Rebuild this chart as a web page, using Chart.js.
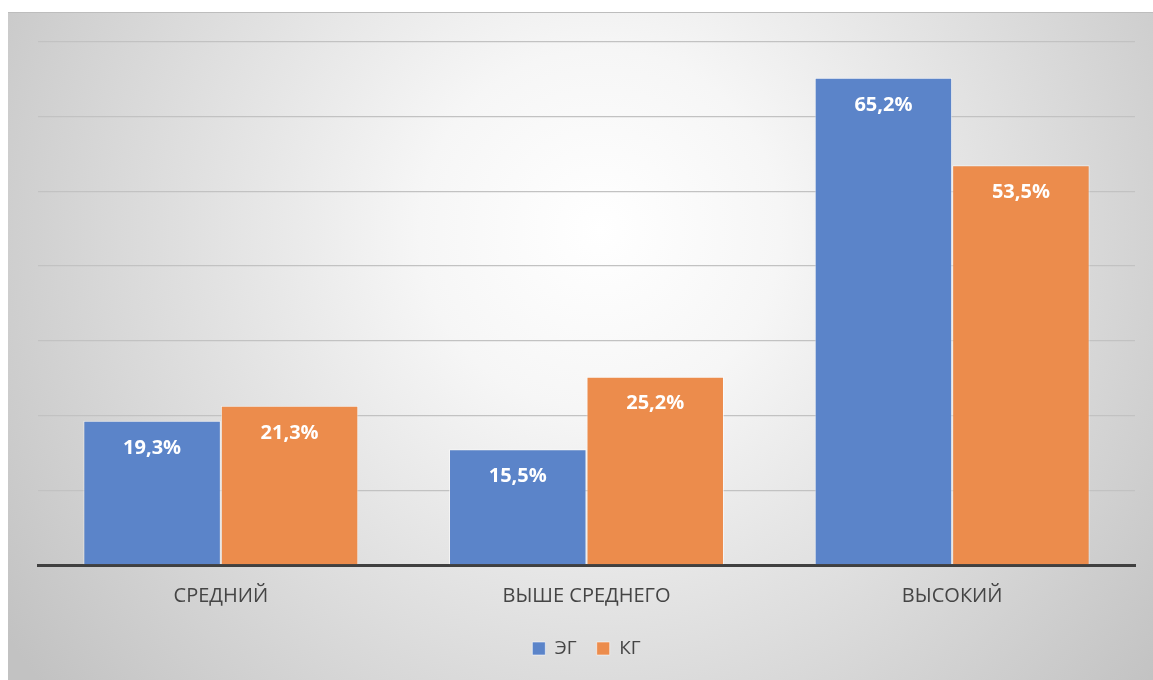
<!DOCTYPE html>
<html>
<head>
<meta charset="utf-8">
<script src="https://cdn.jsdelivr.net/npm/chart.js@4.4.1/dist/chart.umd.min.js"></script>
<style>
    html, body { margin: 0; padding: 0; background: #ffffff; }
    #wrap { width: 1153px; height: 680px; position: relative; }
</style>
</head>
<body>
<div id="wrap"><canvas id="chart" width="1153" height="680"></canvas></div>
<script>
const categories = ["СРЕДНИЙ", "ВЫШЕ СРЕДНЕГО", "ВЫСОКИЙ"];
const seriesNames = ["ЭГ", "КГ"];
const egValues = [19.3, 15.5, 65.2];
const kgValues = [21.3, 25.2, 53.5];
const yMax = 70;
const yStep = 10;

const FONT = "'Open Sans', 'DejaVu Sans', sans-serif";

// grey box with a soft radial light behind the plot
const backdrop = {
    id: "backdrop",
    beforeDraw(chart) {
        const ctx = chart.ctx;
        const w = chart.width, h = chart.height;
        ctx.save();
        ctx.fillStyle = "#ffffff";
        ctx.fillRect(0, 0, w, h);
        const g = ctx.createRadialGradient(600, 230, 0, 600, 230, 720);
        g.addColorStop(0, "#ffffff");
        g.addColorStop(0.25, "#f6f6f6");
        g.addColorStop(1, "#c2c2c2");
        ctx.fillStyle = g;
        ctx.fillRect(8, 12, w - 8, h - 12);
        ctx.fillStyle = "#bdbdbd";
        ctx.fillRect(8, 12, w - 8, 1);
        ctx.restore();
    }
};

// value text inside the top of each bar
const barLabels = {
    id: "barLabels",
    afterDatasetsDraw(chart) {
        const ctx = chart.ctx;
        ctx.save();
        ctx.font = "bold 20px " + FONT;
        ctx.fillStyle = "#ffffff";
        ctx.textAlign = "center";
        ctx.textBaseline = "middle";
        chart.data.datasets.forEach((ds, i) => {
            chart.getDatasetMeta(i).data.forEach((bar, j) => {
                const txt = ds.data[j].toFixed(1).replace(".", ",") + "%";
                ctx.fillText(txt, bar.x, bar.y + 27);
            });
        });
        ctx.restore();
    }
};

new Chart(document.getElementById("chart"), {
    type: "bar",
    data: {
        labels: categories,
        datasets: [
            {
                label: seriesNames[0],
                data: egValues,
                backgroundColor: "#5b84c9",
                borderColor: "rgba(255,255,255,0.55)",
                borderWidth: 1
            },
            {
                label: seriesNames[1],
                data: kgValues,
                backgroundColor: "#ec8c4c",
                borderColor: "rgba(255,255,255,0.55)",
                borderWidth: 1
            }
        ]
    },
    options: {
        responsive: false,
        animation: false,
        layout: { padding: { left: 38, right: 18, top: 42, bottom: 12 } },
        datasets: {
            bar: { barPercentage: 1, categoryPercentage: 0.752 }
        },
        scales: {
            x: {
                grid: { display: false },
                border: { display: true, color: "#404040", width: 3 },
                ticks: {
                    color: "#454545",
                    font: { family: FONT, size: 20 },
                    padding: 11
                }
            },
            y: {
                min: 0,
                max: yMax,
                ticks: { display: false, stepSize: yStep },
                grid: { color: "#c2c2c2", lineWidth: 1.3, drawTicks: false },
                border: { display: false }
            }
        },
        plugins: {
            legend: {
                position: "bottom",
                labels: {
                    color: "#454545",
                    font: { family: FONT, size: 19 },
                    boxWidth: 13,
                    boxHeight: 13,
                    padding: 20
                }
            },
            tooltip: { enabled: false }
        }
    },
    plugins: [backdrop, barLabels]
});
</script>
</body>
</html>
